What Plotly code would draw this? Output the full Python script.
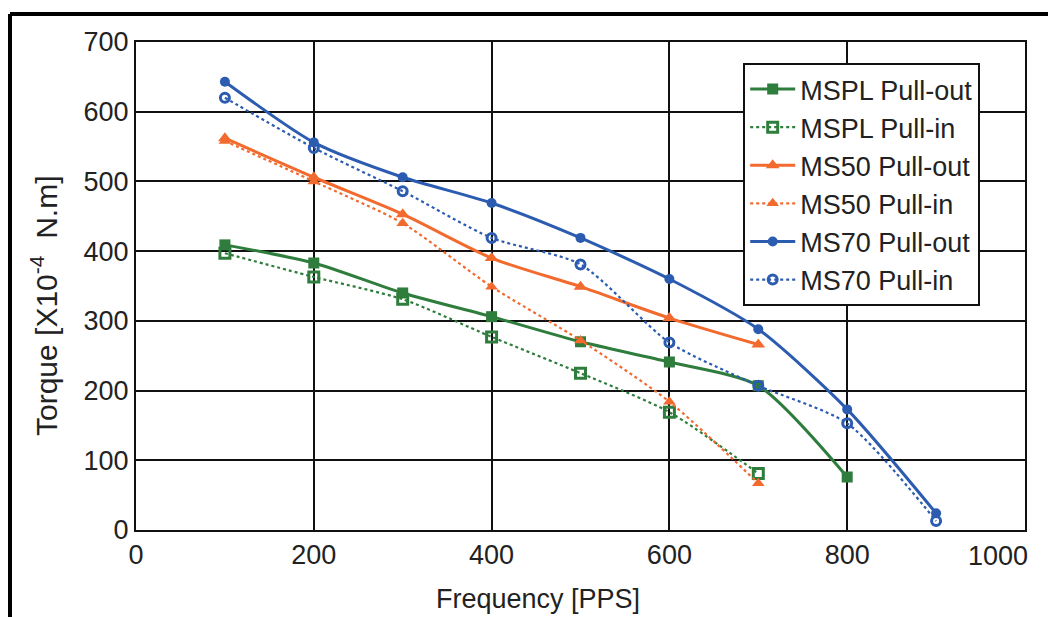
import plotly.graph_objects as go

freq_a = [100, 200, 300, 400, 500, 600, 700, 800]
freq_b = [100, 200, 300, 400, 500, 600, 700]
freq_c = [100, 200, 300, 400, 500, 600, 700, 800, 900]

mspl_out = [409, 383, 340, 306, 270, 241, 207, 76]
mspl_in = [397, 363, 331, 277, 225, 169, 81]
ms50_out = [562, 506, 453, 390, 349, 304, 266]
ms50_in = [558, 500, 440, 349, 272, 184, 67]
ms70_out = [643, 556, 506, 469, 419, 360, 288, 173, 24]
ms70_in = [620, 548, 486, 419, 381, 269, 207, 153, 13]

x_ticks = [0, 200, 400, 600, 800, 1000]
y_ticks = [0, 100, 200, 300, 400, 500, 600, 700]

GREEN = "#2f7d3c"
ORANGE = "#f26a2e"
BLUE = "#2c5cb0"

fig = go.Figure()

def add(name, x, y, color, solid, symbol, size, lw):
    fig.add_trace(go.Scatter(
        x=x, y=y, name=name, mode="lines+markers",
        line=dict(color=color, width=3 if solid else 2.2,
                  dash="solid" if solid else "dot", shape="spline", smoothing=0.7),
        marker=dict(symbol=symbol, size=size, color=color,
                    line=dict(color=color, width=lw)),
    ))

add("MSPL Pull-out", freq_a, mspl_out, GREEN, True, "square", 11, 0)
add("MSPL Pull-in", freq_b, mspl_in, GREEN, False, "square-open", 10, 3)
add("MS50 Pull-out", freq_b, ms50_out, ORANGE, True, "triangle-up", 12, 0)
add("MS50 Pull-in", freq_b, ms50_in, ORANGE, False, "triangle-up", 11, 0)
add("MS70 Pull-out", freq_c, ms70_out, BLUE, True, "circle", 10, 0)
add("MS70 Pull-in", freq_c, ms70_in, BLUE, False, "circle-open", 9, 3)

font_family = "Liberation Sans, Arial, sans-serif"
TXT = "#222222"

# the last x tick label sits flush with the plot's right edge (drawn as an annotation)
x_ticktext = [str(v) for v in x_ticks[:-1]] + [""]

fig.update_layout(
    width=1048, height=617,
    margin=dict(l=136, r=23, t=42, b=87),
    paper_bgcolor="white", plot_bgcolor="white",
    font=dict(family=font_family, color=TXT),
    showlegend=True,
    legend=dict(
        x=0.683, y=0.957, xanchor="left", yanchor="top",
        bgcolor="white", bordercolor="#111111", borderwidth=2,
        font=dict(size=27, family=font_family, color=TXT),
        itemwidth=45, tracegroupgap=0,
    ),
    xaxis=dict(
        range=[0, 1000], tickvals=x_ticks, ticktext=x_ticktext,
        showgrid=True, gridcolor="#111111", gridwidth=2,
        showline=True, linecolor="#111111", linewidth=2, mirror=True,
        zeroline=False, ticks="", tickfont=dict(size=27, color=TXT),
    ),
    yaxis=dict(
        range=[0, 700], tickvals=y_ticks, ticktext=[str(v) for v in y_ticks],
        showgrid=True, gridcolor="#111111", gridwidth=2,
        showline=True, linecolor="#111111", linewidth=2, mirror=True,
        zeroline=False, ticks="", tickfont=dict(size=27, color=TXT),
    ),
    annotations=[
        dict(text=str(x_ticks[-1]), xref="x", yref="paper",
             x=x_ticks[-1], y=(530 - 556) / 488, xanchor="right", yanchor="middle",
             xshift=5, showarrow=False, font=dict(size=27, color=TXT)),
        dict(text="Frequency [PPS]", xref="paper", yref="paper",
             x=(538 - 136) / 889, y=(530 - 599) / 488, xanchor="center", yanchor="middle",
             showarrow=False, font=dict(size=27, color=TXT)),
        dict(text="Torque [X10<sup>-4</sup>  N.m]", xref="paper", yref="paper",
             x=(44 - 136) / 889, y=(530 - 306) / 488, xanchor="center", yanchor="middle",
             textangle=-90, showarrow=False, font=dict(size=30, color=TXT)),
    ],
    shapes=[
        dict(type="line", xref="paper", yref="paper",
             x0=(10 - 136) / 889, x1=1.2, y0=(530 - 14) / 488, y1=(530 - 14) / 488,
             line=dict(color="black", width=4)),
        dict(type="line", xref="paper", yref="paper",
             x0=(10 - 136) / 889, x1=(10 - 136) / 889, y0=(530 - 14) / 488, y1=-0.3,
             line=dict(color="black", width=4)),
    ],
)

fig.write_html("out.html")
